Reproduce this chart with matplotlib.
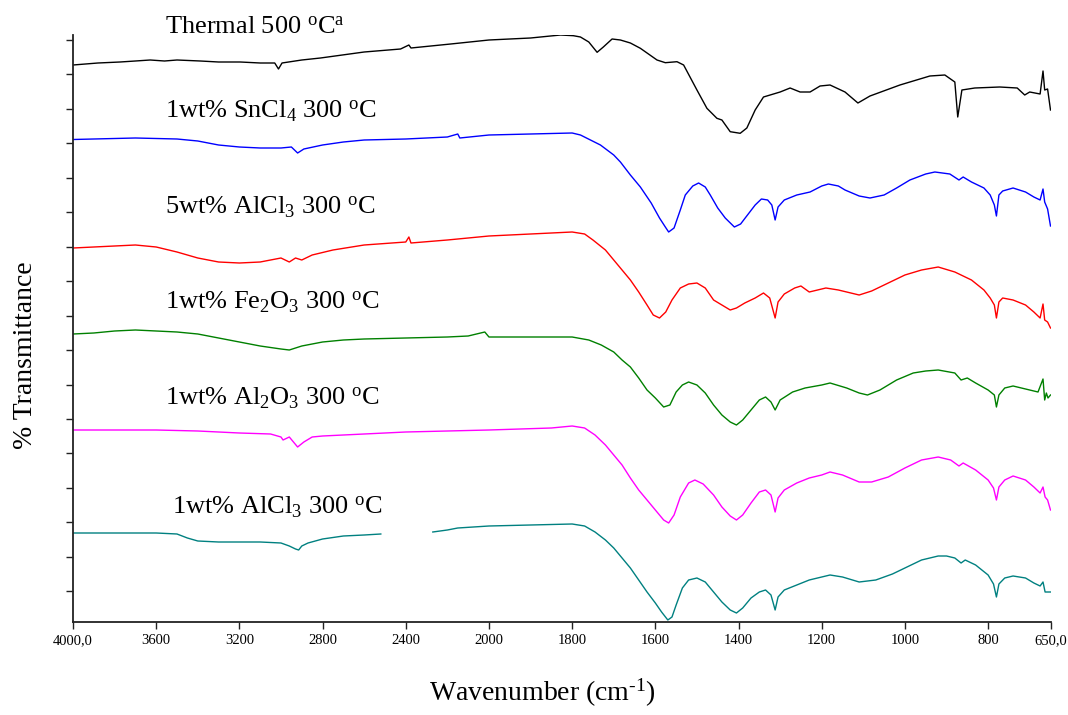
import numpy as np
import matplotlib
matplotlib.use("Agg")
import matplotlib.pyplot as plt
from matplotlib.ticker import FixedLocator, FixedFormatter, NullFormatter

plt.rcParams['font.family'] = ['Liberation Serif', 'DejaVu Serif']
plt.rcParams['mathtext.fontset'] = 'custom'
plt.rcParams['mathtext.rm'] = 'Liberation Serif'
plt.rcParams['mathtext.it'] = 'Liberation Serif:italic'
plt.rcParams['mathtext.default'] = 'regular'

# ---- data (wavenumber in cm-1, transmittance in offset arbitrary units) ----
thermal_w = [4000, 3880, 3774, 3700, 3629, 3560, 3500, 3388, 3300, 3196, 3100, 3030, 3012, 2995,
             2900, 2810, 2600, 2425, 2385, 2375, 2184, 2000, 1900, 1828, 1797, 1780, 1760, 1740,
             1725, 1704, 1684, 1660, 1636, 1596, 1576, 1548, 1532, 1500, 1476, 1452, 1440, 1420,
             1396, 1380, 1360, 1340, 1324, 1300, 1276, 1252, 1228, 1204, 1180, 1144, 1113, 1084,
             1012, 940, 904, 880, 873, 863, 832, 772, 730, 712, 700, 675, 668, 664, 657, 650]
thermal_t = [55.67, 55.87, 55.97, 56.07, 56.17, 56.07, 56.17, 56.07, 55.97, 55.97, 55.87, 55.87, 55.27, 55.87,
             56.17, 56.37, 56.97, 57.27, 57.67, 57.37, 57.77, 58.17, 58.37, 58.67, 58.60, 58.47, 57.97, 56.94,
             57.47, 58.27, 58.17, 57.87, 57.34, 56.17, 55.90, 56.00, 55.67, 53.17, 51.34, 50.34, 50.17, 49.00,
             48.84, 49.37, 51.17, 52.47, 52.67, 52.97, 53.37, 52.97, 52.97, 53.57, 53.67, 52.97, 51.87, 52.57,
             53.67, 54.57, 54.67, 53.97, 50.47, 53.17, 53.37, 53.47, 53.37, 52.67, 52.97, 52.77, 55.07, 53.17, 53.27, 51.17]

sncl4_w = [4000, 3900, 3700, 3500, 3400, 3300, 3200, 3100, 3000, 2950, 2920, 2890, 2800, 2700, 2600,
           2400, 2200, 2150, 2140, 2000, 1900, 1800, 1780, 1756, 1732, 1700, 1684, 1660, 1636, 1610,
           1590, 1576, 1568, 1555, 1540, 1528, 1510, 1496, 1480, 1468, 1450, 1432, 1410, 1395, 1384,
           1360, 1345, 1330, 1320, 1312, 1305, 1290, 1260, 1228, 1200, 1184, 1160, 1144, 1110, 1084,
           1050, 1020, 988, 950, 928, 892, 870, 860, 840, 810, 795, 785, 780, 774, 765, 740, 710, 690,
           675, 668, 664, 657, 650]
sncl4_t = [48.22, 48.27, 48.37, 48.27, 48.07, 47.67, 47.47, 47.37, 47.37, 47.47, 46.87, 47.27, 47.67, 47.97, 48.17,
           48.27, 48.47, 48.77, 48.37, 48.67, 48.77, 48.87, 48.67, 48.17, 47.67, 46.67, 45.97, 44.67, 43.47, 41.87,
           40.37, 39.47, 38.97, 39.37, 41.17, 42.67, 43.57, 43.87, 43.47, 42.67, 41.37, 40.37, 39.47, 39.77, 40.37,
           41.67, 42.27, 42.17, 41.67, 40.17, 41.47, 42.17, 42.67, 42.97, 43.57, 43.77, 43.57, 43.17, 42.57, 42.37,
           42.67, 43.37, 44.17, 44.77, 44.97, 44.77, 44.17, 44.47, 43.97, 43.37, 42.67, 41.67, 40.57, 42.67, 43.07,
           43.37, 42.97, 42.47, 42.17, 43.27, 41.97, 41.27, 39.57]

alcl3_5_w = [4000, 3800, 3700, 3600, 3500, 3400, 3300, 3200, 3100, 3000, 2960, 2930, 2900, 2850, 2750,
             2600, 2400, 2385, 2375, 2200, 2000, 1850, 1800, 1770, 1750, 1720, 1700, 1680, 1660, 1640,
             1620, 1605, 1590, 1575, 1560, 1540, 1520, 1500, 1480, 1460, 1440, 1420, 1405, 1385, 1360,
             1340, 1325, 1312, 1305, 1290, 1265, 1250, 1230, 1210, 1190, 1160, 1130, 1110, 1080, 1040,
             1000, 960, 920, 880, 840, 810, 795, 785, 780, 774, 765, 740, 710, 690, 675, 668, 664, 657, 650]
alcl3_5_t = [37.37, 37.57, 37.67, 37.47, 36.97, 36.37, 35.97, 35.87, 35.97, 36.37, 35.97, 36.37, 36.17, 36.67, 37.17,
             37.67, 37.97, 38.47, 37.87, 38.17, 38.57, 38.87, 38.97, 38.77, 38.17, 37.17, 36.17, 35.17, 34.17, 32.97,
             31.67, 30.67, 30.37, 30.97, 32.17, 33.37, 33.77, 33.87, 33.37, 32.17, 31.67, 31.17, 31.37, 31.87, 32.37,
             32.87, 32.37, 30.37, 31.97, 32.77, 33.37, 33.57, 32.97, 33.17, 33.37, 33.17, 32.87, 32.67, 33.07, 33.87,
             34.67, 35.17, 35.47, 34.97, 34.17, 33.17, 32.37, 31.67, 30.37, 31.97, 32.37, 32.17, 31.67, 30.97, 30.37,
             31.77, 30.17, 29.97, 29.37]

fe2o3_w = [4000, 3900, 3800, 3700, 3600, 3500, 3400, 3300, 3200, 3100, 3000, 2960, 2900, 2800, 2700,
           2600, 2400, 2200, 2100, 2020, 2000, 1900, 1800, 1760, 1730, 1700, 1680, 1660, 1640, 1620,
           1600, 1580, 1565, 1550, 1535, 1520, 1500, 1480, 1460, 1440, 1420, 1405, 1390, 1370, 1350,
           1335, 1322, 1312, 1300, 1270, 1240, 1200, 1180, 1140, 1110, 1090, 1060, 1020, 980, 950,
           920, 880, 865, 850, 830, 800, 785, 780, 774, 760, 740, 700, 680, 668, 664, 660, 656, 650]
fe2o3_t = [28.77, 28.87, 29.07, 29.17, 29.07, 28.97, 28.77, 28.37, 27.97, 27.57, 27.27, 27.17, 27.57, 27.97, 28.17,
           28.27, 28.37, 28.47, 28.57, 28.97, 28.47, 28.47, 28.47, 28.17, 27.67, 26.97, 26.17, 25.47, 24.37, 23.17,
           22.37, 21.47, 21.67, 22.97, 23.67, 23.97, 23.67, 22.87, 21.67, 20.67, 19.97, 19.67, 20.17, 21.17, 22.17,
           22.47, 21.97, 21.17, 22.17, 22.97, 23.37, 23.67, 23.87, 23.37, 22.87, 22.67, 23.17, 24.17, 24.87, 25.07,
           25.17, 24.87, 24.17, 24.37, 23.87, 23.17, 22.67, 21.47, 22.67, 23.37, 23.57, 23.17, 22.97, 24.27, 22.17,
           22.87, 22.37, 22.67]

al2o3_w = [4000, 3800, 3600, 3400, 3200, 3050, 3000, 2990, 2960, 2920, 2890, 2850, 2800, 2600, 2400,
           2200, 2000, 1850, 1800, 1770, 1745, 1720, 1700, 1680, 1660, 1640, 1620, 1600, 1580, 1568,
           1555, 1540, 1520, 1505, 1485, 1460, 1440, 1420, 1405, 1390, 1370, 1350, 1335, 1322, 1312,
           1305, 1290, 1260, 1230, 1200, 1180, 1150, 1110, 1080, 1040, 1000, 960, 920, 890, 870, 860,
           830, 800, 787, 780, 774, 760, 740, 710, 690, 675, 668, 663, 657, 650]
al2o3_t = [19.17, 19.17, 19.17, 19.07, 18.87, 18.77, 18.47, 18.17, 18.47, 17.47, 17.97, 18.47, 18.57, 18.77, 18.97,
           19.07, 19.17, 19.37, 19.57, 19.37, 18.67, 17.67, 16.67, 15.67, 14.37, 13.17, 12.17, 11.17, 10.17, 9.87,
           10.67, 12.47, 13.87, 14.17, 13.77, 12.67, 11.47, 10.57, 10.17, 10.67, 11.87, 12.97, 13.17, 12.67, 10.97,
           12.37, 13.17, 13.87, 14.37, 14.67, 14.97, 14.67, 13.97, 13.97, 14.47, 15.37, 16.17, 16.47, 16.17, 15.57, 15.87,
           15.17, 14.17, 13.37, 12.17, 13.47, 14.17, 14.57, 14.17, 13.47, 12.87, 13.47, 12.47, 12.17, 11.17]

alcl3_1_w = [4000, 3800, 3600, 3500, 3450, 3400, 3300, 3200, 3100, 3000, 2960, 2930, 2915, 2900, 2870,
             2800, 2700, 2600, 2520, 2400, 2270, 2200, 2150, 2000, 1900, 1800, 1770, 1745, 1720, 1700,
             1680, 1660, 1640, 1620, 1600, 1585, 1570, 1560, 1550, 1535, 1520, 1500, 1480, 1460, 1440,
             1420, 1405, 1390, 1370, 1350, 1335, 1322, 1312, 1305, 1290, 1260, 1230, 1200, 1180, 1150,
             1110, 1070, 1030, 1000, 960, 920, 900, 880, 865, 855, 830, 800, 787, 780, 774, 760, 740,
             710, 690, 675, 668, 663, 657, 650]
alcl3_1_t = [8.87, 8.87, 8.87, 8.77, 8.37, 8.07, 7.97, 7.97, 7.97, 7.87, 7.57, 7.27, 7.17, 7.57, 7.87,
             8.27, 8.57, 8.67, 8.77, np.nan, 8.97, 9.17, 9.37, 9.57, 9.67, 9.77, 9.57, 8.97, 8.17, 7.37,
             6.37, 5.37, 4.17, 2.97, 1.87, 0.97, 0.17, 0.47, 1.67, 3.37, 4.17, 4.37, 3.97, 2.97, 1.97,
             1.17, 0.87, 1.37, 2.37, 2.97, 3.17, 2.67, 1.17, 2.47, 3.17, 3.67, 4.17, 4.47, 4.67, 4.47,
             3.97, 4.17, 4.77, 5.37, 6.17, 6.57, 6.57, 6.37, 5.87, 6.17, 5.67, 4.67, 3.77, 2.47, 3.77, 4.37, 4.57,
             4.37, 3.87, 3.57, 3.97, 2.97, 2.97, 2.97]

series = [
    (thermal_w, thermal_t, 'black', r'Thermal 500 $^{\rm o}$C$^{\rm a}$', 59.4, 3557),
    (sncl4_w, sncl4_t, '#0000ff', r'1wt% SnCl$_{\rm 4}$ 300 $^{\rm o}$C', 51.0, 3557),
    (alcl3_5_w, alcl3_5_t, '#ff0000', r'5wt% AlCl$_{\rm 3}$ 300 $^{\rm o}$C', 41.4, 3557),
    (fe2o3_w, fe2o3_t, '#008000', r'1wt% Fe$_{\rm 2}$O$_{\rm 3}$ 300 $^{\rm o}$C', 31.9, 3557),
    (al2o3_w, al2o3_t, '#ff00ff', r'1wt% Al$_{\rm 2}$O$_{\rm 3}$ 300 $^{\rm o}$C', 22.3, 3557),
    (alcl3_1_w, alcl3_1_t, '#008080', r'1wt% AlCl$_{\rm 3}$ 300 $^{\rm o}$C', 11.4, 3523),
]

xtick_vals = [4000, 3600, 3200, 2800, 2400, 2000, 1800, 1600, 1400, 1200, 1000, 800, 650]
xtick_labels = ['4000,0', '3600', '3200', '2800', '2400', '2000', '1800', '1600', '1400',
                '1200', '1000', '800', '650,0']


def fwd(w):
    w = np.asarray(w, dtype=float)
    return np.where(w > 2000, 2000 + (w - 2000) / 2.0, w)


def inv(u):
    u = np.asarray(u, dtype=float)
    return np.where(u > 2000, 2000 + (u - 2000) * 2.0, u)


fig = plt.figure(figsize=(10.68, 7.15), dpi=100)
ax = fig.add_axes([73 / 1068, 1 - 621.7 / 715, (1050.5 - 73) / 1068, (621.7 - 34.7) / 715])
ax.set_xscale('function', functions=(fwd, inv))

for w, t, c, lab, ly, lx in series:
    ax.plot(w, t, color=c, lw=1.0)
    ax.text(lx, ly, lab, fontsize=19, va='center', ha='left', color='black')

ax.set_xlim(4000, 650)
ax.set_ylim(0, 58.7)

ax.xaxis.set_major_locator(FixedLocator(xtick_vals))
ax.xaxis.set_major_formatter(FixedFormatter(xtick_labels))
ax.xaxis.set_minor_locator(FixedLocator([]))
ax.yaxis.set_major_locator(FixedLocator(list(58.17 - 3.445 * np.arange(17))))
ax.yaxis.set_major_formatter(NullFormatter())

for s in ['top', 'right']:
    ax.spines[s].set_visible(False)
for s in ['left', 'bottom']:
    ax.spines[s].set_linewidth(1.3)
    ax.spines[s].set_color('#222222')

ax.tick_params(axis='both', direction='out', length=5, width=1.0, color='#222222')
ax.tick_params(axis='x', labelsize=10.5, pad=4)

ax.set_xlabel(r'Wavenumber (cm$^{\text{-}1}$)', fontsize=20)
ax.set_ylabel('% Transmittance', fontsize=20)
ax.xaxis.set_label_coords(0.48, -0.094)
ax.yaxis.set_label_coords(-0.036, 0.454)

fig.savefig('out.png', dpi=100)
